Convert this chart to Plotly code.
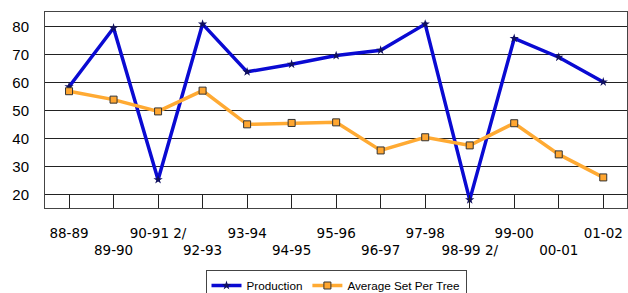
import plotly.graph_objects as go

categories = ["88-89", "89-90", "90-91 2/", "92-93", "93-94", "94-95", "95-96",
              "96-97", "97-98", "98-99 2/", "99-00", "00-01", "01-02"]
production = [58.5, 79.4, 25.4, 80.8, 63.8, 66.5, 69.6, 71.5, 80.8, 18.2, 75.7, 69.0, 60.2]
avg_set = [56.9, 53.9, 49.7, 57.1, 45.1, 45.6, 45.8, 35.8, 40.5, 37.6, 45.5, 34.4, 26.2]
y_ticks = [20, 30, 40, 50, 60, 70, 80]

tick_text = [c if i % 2 == 0 else "<br>" + c for i, c in enumerate(categories)]

fig = go.Figure()
fig.add_trace(go.Scatter(
    x=categories, y=production, name="Production", mode="lines+markers",
    line=dict(color="#0a0ad2", width=3.5),
    marker=dict(symbol="star", size=7, color="#101060"),
))
fig.add_trace(go.Scatter(
    x=categories, y=avg_set, name="Average Set Per Tree", mode="lines+markers",
    line=dict(color="#ffaa33", width=3.5),
    marker=dict(symbol="square", size=7, color="#ffa630", line=dict(color="#333333", width=1)),
))

fig.update_layout(
    width=628, height=293,
    margin=dict(l=0, r=0, t=0, b=0, pad=0, autoexpand=False),
    paper_bgcolor="white", plot_bgcolor="white",
    font=dict(family="Liberation Sans, Arial, sans-serif", color="black"),
    xaxis=dict(
        domain=[45 / 628, 627.3 / 628],
        type="category", range=[-0.54, 12.54],
        tickmode="array", tickvals=categories, ticktext=tick_text, tickangle=0,
        ticks="inside", ticklen=13, tickcolor="#222", tickwidth=1,
        showgrid=False, showline=True, linecolor="#444", linewidth=1, mirror=True,
        tickfont=dict(family="DejaVu Sans", size=13.5, color="black"),
        ticklabelstandoff=12, automargin=False,
        zeroline=False,
    ),
    yaxis=dict(
        domain=[1 - 208.3 / 293, 1 - 12.3 / 293],
        range=[15.2, 85], tickvals=y_ticks,
        showgrid=True, gridcolor="#222", gridwidth=1,
        showline=True, linecolor="#444", linewidth=1, mirror=True,
        ticks="", tickfont=dict(family="Liberation Sans", size=15, color="black"),
        ticklabelstandoff=12, automargin=False,
        zeroline=False,
    ),
    legend=dict(
        orientation="h", x=336 / 628, xanchor="center",
        y=1 - 270 / 293, yanchor="top",
        bordercolor="#444", borderwidth=1, bgcolor="white",
        font=dict(family="Liberation Sans", size=11.7, color="black"),
        itemwidth=30,
    ),
)

fig.write_html("out.html", config={"displayModeBar": False},
               post_script="document.body.style.margin='0';")
